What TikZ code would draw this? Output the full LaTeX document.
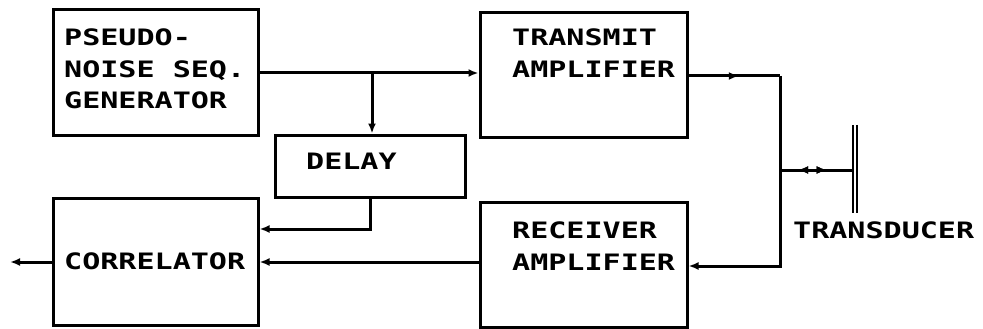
\documentclass[tikz,border=0pt]{standalone}
\usepackage{fontspec}
\usetikzlibrary{arrows.meta,decorations.markings}
% plotter-style lettering: wide monospaced capitals
\newfontfamily\plotfont[FakeStretch=1.33]{DejaVu Sans Mono}
\tikzset{
  blk/.style={draw, line width=3pt, minimum width=#1, inner sep=0pt},
  lbl/.style={anchor=north west, inner sep=0pt, align=left,
              font=\plotfont\bfseries\fontsize{22.6}{31.5}\selectfont},
  wire/.style={line width=3pt},
  tip/.style={-{Latex[length=10pt,width=8pt]}},
  midtip/.style={postaction={decorate},
    decoration={markings, mark=at position #1 with {\arrow{Latex[length=10pt,width=8pt]}}}},
  midtiprev/.style={postaction={decorate},
    decoration={markings, mark=at position #1 with {\arrowreversed{Latex[length=10pt,width=8pt]}}}},
}
\begin{document}
\begin{tikzpicture}[x=1pt,y=-1pt]
\useasboundingbox (0,0) rectangle (983,329);

% blocks
\node (pn)   [blk=205pt, minimum height=125pt] at (155.5,72.5) {};
\node (tx)   [blk=207pt, minimum height=124pt] at (583.5,75)   {};
\node (dl)   [blk=190pt, minimum height=62pt]  at (370,166)    {};
\node (corr) [blk=205pt, minimum height=127pt] at (155.5,261.5) {};
\node (rx)   [blk=207pt, minimum height=125pt] at (583.5,264.5) {};

% block captions
\node (pnt)   [lbl] at (64,29)   {PSEUDO-\\NOISE SEQ.\\GENERATOR};
\node (txt)   [lbl] at (512,29)  {TRANSMIT\\AMPLIFIER};
\node (dlt)   [lbl] at (306,153) {DELAY};
\node (corrt) [lbl] at (64,253)  {CORRELATOR};
\node (rxt)   [lbl] at (512,222) {RECEIVER\\AMPLIFIER};

% transducer: two parallel plates
\node (td) [minimum width=4pt, minimum height=88pt, inner sep=0pt] at (855,169) {};
\draw[line width=2pt] (td.north west) -- (td.south west);
\draw[line width=2pt] (td.north east) -- (td.south east);
\node (tdt) [lbl] at (793,222) {TRANSDUCER};

% routing points
\coordinate (br)  at (372,73);
\coordinate (jt)  at (780,76);
\coordinate (jm)  at (780,170);
\coordinate (jb)  at (780,266);
\coordinate (out) at (10,262);

% signal paths
\draw[wire,tip] (pn.east |- br) -- (tx.west |- br);
\draw[wire,tip] (br) -- (br |- dl.north);
\draw[wire,midtip=0.55] (tx.east |- jt) -- (jt);
\draw[wire,tip] (jt) -- (jb) -- (rx.east |- jb);
\draw[wire,midtiprev=0.25,midtip=0.64] (jm) -- (td.west |- jm);
\draw[wire,tip] (dl.south) |- ([yshift=32.5pt]corr.east);
\draw[wire,tip] (rx.west |- out) -- (corr.east |- out);
\draw[wire,tip] (corr.west |- out) -- (out);
\end{tikzpicture}
\end{document}
